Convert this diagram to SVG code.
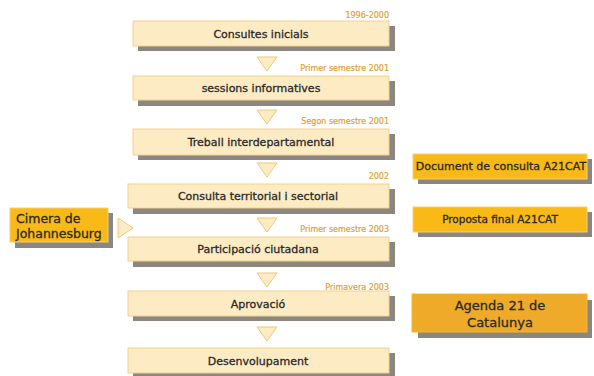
<svg xmlns="http://www.w3.org/2000/svg" width="594" height="376" viewBox="0 0 594 376">
<style>
.box{fill:#fdebc4;stroke:#f3d08c;stroke-width:1}
.gold{fill:#f9b916;stroke:#f6cf7a;stroke-width:1}
.sh{fill:#8b8680}
.t{font-family:"DejaVu Sans","Liberation Sans",sans-serif;font-size:11px;fill:#2a2a2a;stroke:#2a2a2a;stroke-width:0.3;text-anchor:middle}
.tl{font-family:"DejaVu Sans","Liberation Sans",sans-serif;font-size:12.5px;fill:#2a2a2a;stroke:#2a2a2a;stroke-width:0.3}
.d{font-family:"DejaVu Sans","Liberation Sans",sans-serif;font-size:8px;fill:#e0a030;stroke:#e0a030;stroke-width:0.2;text-anchor:end}
.tri{fill:#fdebc4;stroke:#f0c878;stroke-width:1}
</style>
<rect width="594" height="376" fill="#fff"/>
<g id="connectors">
<polygon class="tri" points="257,57 277,57 267,71"/>
<polygon class="tri" points="257,110 277,110 267,124"/>
<polygon class="tri" points="257,163 277,163 267,177"/>
<polygon class="tri" points="257,218 277,218 267,232"/>
<polygon class="tri" points="257,273 277,273 267,287"/>
<polygon class="tri" points="257,327 277,327 267,341"/>
<polygon class="tri" points="118,218 133,228 118,238"/>
</g>
<g id="dates">
<text class="d" x="389" y="18">1996-2000</text>
<text class="d" x="389" y="71">Primer semestre 2001</text>
<text class="d" x="389" y="124">Segon semestre 2001</text>
<text class="d" x="389" y="179">2002</text>
<text class="d" x="389" y="232">Primer semestre 2003</text>
<text class="d" x="389" y="290">Primavera 2003</text>
</g>
<g id="n1"><rect class="sh" x="138" y="26" width="257" height="25"/><rect class="box" x="133" y="21" width="256" height="25"/><text class="t" x="261" y="38">Consultes inicials</text></g>
<g id="n2"><rect class="sh" x="138" y="81" width="257" height="25"/><rect class="box" x="133" y="76" width="256" height="24"/><text class="t" x="261" y="92">sessions informatives</text></g>
<g id="n3"><rect class="sh" x="138" y="134" width="257" height="26"/><rect class="box" x="133" y="129" width="256" height="26"/><text class="t" x="261" y="146">Treball interdepartamental</text></g>
<g id="n4"><rect class="sh" x="133" y="189" width="262" height="25"/><rect class="box" x="128" y="184" width="261" height="24"/><text class="t" x="258" y="200">Consulta territorial i sectorial</text></g>
<g id="n5"><rect class="sh" x="133" y="242" width="262" height="25"/><rect class="box" x="128" y="237" width="261" height="24"/><text class="t" x="258" y="253">Participació ciutadana</text></g>
<g id="n6"><rect class="sh" x="133" y="296" width="262" height="25"/><rect class="box" x="128" y="291" width="261" height="25"/><text class="t" x="258" y="308">Aprovació</text></g>
<g id="n7"><rect class="sh" x="133" y="353" width="262" height="25"/><rect class="box" x="128" y="348" width="261" height="25"/><text class="t" x="258" y="365">Desenvolupament</text></g>
<g id="cimera"><rect class="sh" x="15" y="213" width="98" height="35"/><rect class="gold" x="10" y="208" width="98" height="34"/><text class="tl" x="16" y="223">Cimera de</text><text class="tl" x="16" y="238">Johannesburg</text></g>
<g id="doc"><rect class="sh" x="418" y="159" width="174" height="25"/><rect class="gold" x="413" y="154" width="174" height="25"/><text class="t" x="501" y="170">Document de consulta A21CAT</text></g>
<g id="prop"><rect class="sh" x="418" y="212" width="174" height="25"/><rect class="gold" x="413" y="207" width="174" height="25"/><text class="t" x="500" y="223" style="font-size:10.5px">Proposta final A21CAT</text></g>
<g id="agenda"><rect class="sh" x="418" y="300" width="174" height="38"/><rect fill="#eeaa28" stroke="#f6b820" x="412" y="294" width="175" height="38"/><text class="t" x="500" y="310" style="font-size:13px">Agenda 21 de</text><text class="t" x="500" y="327" style="font-size:13px">Catalunya</text></g>
</svg>
